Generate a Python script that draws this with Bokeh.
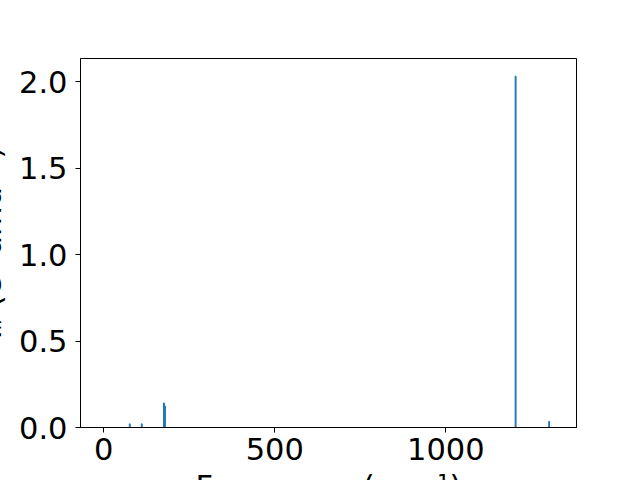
from bokeh.plotting import figure
from bokeh.models import Range1d, FixedTicker, PrintfTickFormatter
from bokeh.embed import file_html
from bokeh.resources import INLINE

# Data
freqs = [76, 111, 176, 179, 1204, 1302]
intensities = [0.021, 0.021, 0.142, 0.124, 2.033, 0.035]
x_ticks = [0, 500, 1000]
y_ticks = [0.0, 0.5, 1.0, 1.5, 2.0]
x_label = "Frequency (cm⁻¹)"
y_label = "Iᵢᵣ (e² amu⁻¹)"

FONT = "DejaVu Sans"
FS = "30.5px"
EXTRA_L = 40   # canvas part hidden beyond the left page edge
EXTRA_B = 40   # canvas part hidden below the window

p = figure(width=640 + EXTRA_L, height=480 + EXTRA_B, output_backend="svg",
           toolbar_location=None,
           x_range=Range1d(-68, 1382), y_range=Range1d(0, 2.135),
           min_border_left=80 + EXTRA_L, min_border_right=64, min_border_top=58,
           min_border_bottom=53 + EXTRA_B)
p.margin = (0, 0, -EXTRA_B, -EXTRA_L)
p.background_fill_color = "white"
p.border_fill_color = "white"
p.outline_line_color = "black"
p.outline_line_width = 1
p.xgrid.visible = False
p.ygrid.visible = False

p.vbar(x=freqs, top=intensities, width=2.6, color="#1f77b4")

for ax in (p.xaxis[0], p.yaxis[0]):
    ax.axis_line_color = "black"
    ax.major_tick_line_color = "black"
    ax.major_tick_out = 5
    ax.major_tick_in = 0
    ax.minor_tick_line_color = None
    ax.major_label_text_font = FONT
    ax.major_label_text_font_size = FS
    ax.major_label_text_color = "black"
    ax.axis_label_text_font = FONT
    ax.axis_label_text_font_size = FS
    ax.axis_label_text_font_style = "normal"
    ax.axis_label_text_color = "black"

p.xaxis[0].ticker = FixedTicker(ticks=x_ticks)
p.yaxis[0].ticker = FixedTicker(ticks=y_ticks)
p.yaxis[0].formatter = PrintfTickFormatter(format="%.1f")
p.xaxis[0].major_label_standoff = 5
p.yaxis[0].major_label_standoff = 8
p.xaxis[0].axis_label = x_label
p.yaxis[0].axis_label = y_label
p.xaxis[0].axis_label_standoff = 6
p.yaxis[0].axis_label_standoff = 8

open("out.html", "w").write(file_html(p, INLINE))
